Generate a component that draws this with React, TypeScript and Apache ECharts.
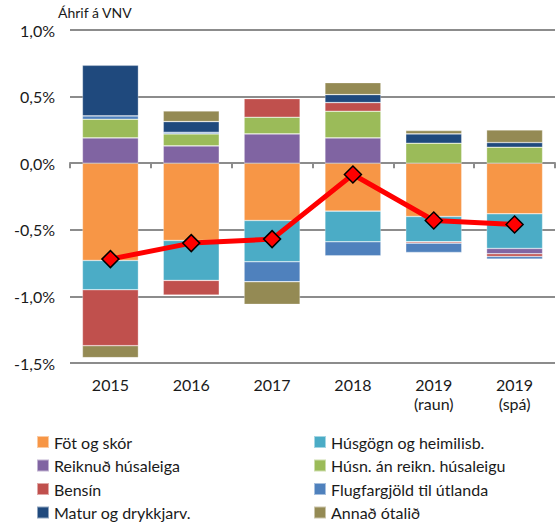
import React, { useEffect, useRef } from "react";
import * as echarts from "echarts";

const categories = ["2015", "2016", "2017", "2018", "2019\n(raun)", "2019\n(spá)"];
const fotOgSkor = [-0.73, -0.58, -0.43, -0.36, -0.40, -0.38];
const husgogn = [-0.22, -0.30, -0.31, -0.23, -0.19, -0.26];
const reiknudHusaleiga = [0.19, 0.13, 0.22, 0.19, 0, -0.04];
const husnAnReikn = [0.14, 0.09, 0.125, 0.20, 0.15, 0.12];
const bensin = [-0.42, -0.11, 0.14, 0.065, -0.01, -0.02];
const flugfargjold = [0.025, 0.0125, -0.15, -0.105, -0.07, -0.02];
const maturOgDrykkjarv = [0.38, 0.08, 0, 0.06, 0.07, 0.035];
const annadOtalid = [-0.09, 0.08, -0.17, 0.09, 0.025, 0.095];
const heild = [-0.72, -0.60, -0.57, -0.085, -0.43, -0.46];
const yTicks = { min: -1.5, max: 1.0, interval: 0.5 };

const FONT = "Lato, 'Open Sans', sans-serif";
const TEXT = "#1a1a1a";

const barSeries = [
  { name: "Föt og skór", data: fotOgSkor, color: "#F79646" },
  { name: "Húsgögn og heimilisb.", data: husgogn, color: "#4BACC6" },
  { name: "Reiknuð húsaleiga", data: reiknudHusaleiga, color: "#8064A2" },
  { name: "Húsn. án reikn. húsaleigu", data: husnAnReikn, color: "#9BBB59" },
  { name: "Bensín", data: bensin, color: "#C0504D" },
  { name: "Flugfargjöld til útlanda", data: flugfargjold, color: "#4F81BD" },
  { name: "Matur og drykkjarv.", data: maturOgDrykkjarv, color: "#1F497D" },
  { name: "Annað ótalið", data: annadOtalid, color: "#948A54" },
];

export default function App() {
  const ref = useRef<HTMLDivElement>(null);
  useEffect(() => {
    if (!ref.current) return;
    const chart = echarts.init(ref.current, undefined, { renderer: "svg" });
    const legends = barSeries.map((s, i) => ({
      orient: "horizontal" as const,
      left: i % 2 === 0 ? 36 : 313,
      top: 434 + Math.floor(i / 2) * 23.5,
      padding: 0,
      itemWidth: 12,
      itemHeight: 12,
      itemGap: 0,
      icon: "rect",
      textStyle: { fontFamily: FONT, fontSize: 16, color: TEXT },
      selectedMode: false,
      data: [s.name],
    }));
    chart.setOption({
      animation: false,
      backgroundColor: "#ffffff",
      textStyle: { fontFamily: FONT },
      title: {
        text: "Áhrif á VNV",
        left: 58,
        top: 5,
        padding: 0,
        textStyle: { fontFamily: FONT, fontSize: 14, fontWeight: "normal", color: TEXT },
      },
      grid: { left: 70, right: 5, top: 30, bottom: 159, containLabel: false },
      legend: legends,
      xAxis: [
        {
          type: "category",
          data: categories,
          position: "bottom",
          axisLine: { show: false, onZero: false },
          axisTick: { show: false },
          axisLabel: {
            fontFamily: FONT,
            fontSize: 16,
            color: TEXT,
            lineHeight: 19,
            margin: 12,
            interval: 0,
          },
        },
        {
          type: "category",
          data: categories,
          position: "bottom",
          axisLine: { show: true, onZero: true, lineStyle: { color: "#8c8c8c", width: 2 } },
          axisTick: { show: true, length: 5, lineStyle: { color: "#8c8c8c", width: 2 } },
          axisLabel: { show: false },
        },
      ],
      yAxis: {
        type: "value",
        min: yTicks.min,
        max: yTicks.max,
        interval: yTicks.interval,
        axisLine: { show: false },
        axisTick: { show: false },
        splitLine: { show: true, lineStyle: { color: "#8c8c8c", width: 2 } },
        axisLabel: {
          fontFamily: FONT,
          fontSize: 16,
          color: TEXT,
          margin: 15,
          formatter: (v: number) => v.toFixed(1).replace(".", ",") + "%",
        },
      },
      series: [
        ...barSeries.map((s) => ({
          name: s.name,
          type: "bar",
          stack: "vnv",
          xAxisIndex: 0,
          barWidth: 56,
          data: s.data,
          itemStyle: { color: s.color, borderColor: "rgba(255,255,255,0.5)", borderWidth: 0.6 },
        })),
        {
          name: "Heild",
          type: "line",
          xAxisIndex: 0,
          data: heild,
          symbol: "diamond",
          symbolSize: 17,
          z: 10,
          lineStyle: { color: "#FF0000", width: 5 },
          itemStyle: { color: "#FF0000", borderColor: "#000000", borderWidth: 1.5 },
        },
      ],
    });
    return () => chart.dispose();
  }, []);
  return (
    <div
      ref={ref}
      style={{ position: "fixed", left: 0, top: 0, width: 560, height: 522, background: "#fff" }}
    />
  );
}
